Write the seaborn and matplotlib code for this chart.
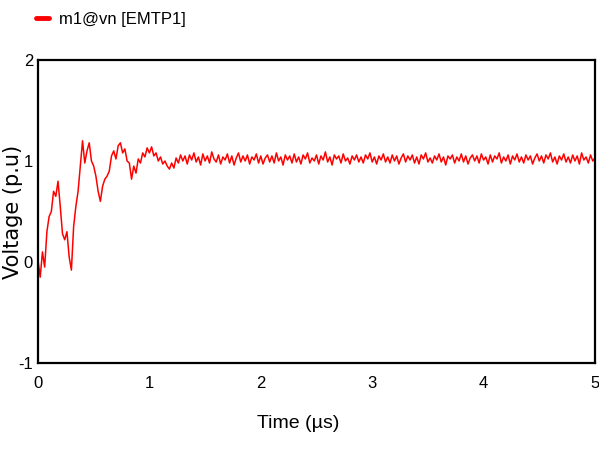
"""
EMTP node voltage m1@vn, transient and steady state
"""

import numpy as np
import pandas as pd
import matplotlib
matplotlib.use("Agg")
import matplotlib.pyplot as plt
import seaborn as sns

sns.set_style("white")
plt.rcParams["font.family"] = ["Liberation Sans", "DejaVu Sans"]
plt.rcParams["axes.unicode_minus"] = False
plt.rcParams["text.color"] = "black"
plt.rcParams["xtick.color"] = "black"
plt.rcParams["ytick.color"] = "black"
plt.rcParams["axes.labelcolor"] = "black"

# values, one every 0.02 us
DT_US = 0.02
transient = [
    0.02, -0.15, 0.10, -0.05, 0.30, 0.45, 0.50, 0.70, 0.65, 0.80,
    0.55, 0.28, 0.22, 0.30, 0.05, -0.08, 0.35, 0.55, 0.70, 0.95,
    1.20, 0.98, 1.10, 1.18, 1.00, 0.95, 0.85, 0.70, 0.60, 0.75,
    0.82, 0.85, 0.90, 1.05, 1.10, 1.02, 1.15, 1.18, 1.08, 1.12,
    1.00, 0.98, 0.82, 0.95, 0.88, 1.02, 0.98, 1.08, 1.04, 1.13,
    1.08, 1.14, 1.05, 1.08, 1.00, 1.04, 0.97, 1.00, 0.95, 0.92,
    0.98, 0.93, 1.03, 0.98, 1.06, 1.00,
]
steady = [
    1.05, 0.97, 1.06, 1.01, 1.08, 0.99, 1.04, 0.96, 1.07, 1.00,
    1.05, 0.98, 1.09, 1.02, 0.99, 1.06, 0.97, 1.04, 1.01, 1.07,
    0.98, 1.05, 0.96, 1.03, 1.08, 0.99, 1.05, 1.00, 1.06, 0.97,
    1.04, 1.01, 1.07, 0.98, 1.05, 0.97, 1.03, 1.06, 0.99, 1.05,
    0.98, 1.08, 1.00, 1.04, 0.96, 1.06, 1.01, 1.05, 0.98, 1.07,
    0.99, 1.04, 0.97, 1.06, 1.02, 1.08, 0.98, 1.03, 1.00, 1.06,
    0.97, 1.05, 1.01, 1.09, 0.99, 1.04, 0.96, 1.06, 1.02, 1.05,
    0.98, 1.07, 1.00, 1.03, 0.97, 1.05, 1.01, 1.06, 0.99, 1.04,
    0.98, 1.06, 1.02, 1.08, 0.99, 1.04, 0.97, 1.05, 1.01, 1.07,
    0.99, 1.04, 0.98, 1.06, 1.00, 1.05, 0.97, 1.03, 1.07, 0.99,
    1.05, 1.01, 1.06, 0.98, 1.04, 0.97, 1.06, 1.02, 1.08, 0.99,
    1.03, 0.98, 1.05, 1.01, 1.07, 0.99, 1.04, 0.96, 1.05, 1.02,
    1.06, 0.98, 1.04, 1.00, 1.07, 0.99, 1.05, 0.97, 1.03, 1.06,
    1.00, 1.05, 0.98, 1.07, 1.01, 1.04, 0.97, 1.06, 0.99, 1.05,
    1.02, 1.08, 0.98, 1.04, 1.00, 1.06, 0.97, 1.05, 1.01, 1.07,
    0.99, 1.04, 0.98, 1.06, 1.01, 1.05, 0.97, 1.03, 1.07, 1.00,
    1.05, 0.98, 1.06, 1.02, 1.08, 0.99, 1.04, 0.97, 1.05, 1.01,
    1.07, 0.99, 1.04, 0.98, 1.06, 1.00, 1.05, 0.97, 1.08, 1.01,
    1.04, 0.98, 1.06, 1.00, 1.03,
]
voltage = transient + steady
time_us = np.arange(len(voltage)) * DT_US

x_ticks = [0, 1, 2, 3, 4, 5]
y_ticks = [-1, 0, 1, 2]

df = pd.DataFrame({"time": time_us, "voltage": voltage})

fig = plt.figure(figsize=(5.99, 4.5), dpi=100)
ax = fig.add_axes([0.0634, 0.1933, 0.9299, 0.6734])

sns.lineplot(data=df, x="time", y="voltage", ax=ax, color="#ff0000",
             linewidth=1.1, label="m1@vn [EMTP1]")

ax.set_xlim(0, 5)
ax.set_ylim(-1, 2)
ax.set_xticks(x_ticks)
ax.set_yticks(y_ticks)
ax.tick_params(axis="both", direction="inout", length=6, width=1.2,
               labelsize=12)
ax.tick_params(axis="x", pad=6)
ax.tick_params(axis="y", pad=0.5)
for s in ax.spines.values():
    s.set_color("black")
    s.set_linewidth(1.6)

ax.set_xlabel("Time (µs)", fontsize=14)
ax.xaxis.set_label_coords(0.467, -0.17)
ax.set_ylabel("Voltage (p.u)", fontsize=15, family=["DejaVu Sans"])
ax.yaxis.set_label_coords(-0.026, 0.5)

leg = ax.legend(loc="upper left", bbox_to_anchor=(0.035, 1.007),
                bbox_transform=fig.transFigure, frameon=False,
                handlelength=0.8, handletextpad=0.6, fontsize=12)
for h in leg.get_lines():
    h.set_linewidth(3.5)

fig.savefig("out.png", dpi=100)
